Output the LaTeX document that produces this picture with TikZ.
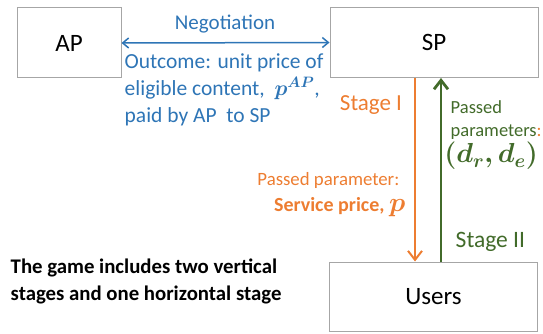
\RequirePackage{fix-cm}
\documentclass[tikz,border=0pt]{standalone}
\usepackage{amsmath, amssymb}
\usepackage{bm}
\usepackage{fontspec}
\setmainfont{Carlito}
\usetikzlibrary{arrows.meta}
\definecolor{negblue}{HTML}{2E75B6}
\definecolor{stageorange}{HTML}{ED7D31}
\definecolor{stagegreen}{HTML}{426B2A}
\definecolor{boxgray}{HTML}{A6A6A6}

\begin{document}
\begin{tikzpicture}[x=1pt, y=-1pt, line width=0.75pt,
    player/.style={draw=boxgray, line width=1pt, inner sep=0pt, minimum width=208pt, minimum height=70pt, font=\fontsize{25}{28}\selectfont},
    tip/.style={-{Straight Barb[length=9pt, width=14pt]}}]
        \useasboundingbox (0,0) rectangle (543,334);
        
        \node[player, minimum width=104pt](AP) at (69, 43) {AP};
        \node[player](SP) at (434, 42.5) {SP};
        \node[player, minimum height=69pt](Users) at (433.5, 296.5) {Users};
        
        % horizontal stage
        \draw[{Straight Barb[length=6pt, width=10pt]}-{Straight Barb[length=6pt, width=10pt]}, negblue, line width=1.5pt] (AP.east) -- (SP.west);
        \node(neg) at (225, 24) [negblue, font=\fontsize{21}{24}\selectfont] {Negotiation};
        \node(out) at (121, 90) [anchor=west, negblue, align=left, font=\fontsize{21.5}{27}\selectfont] {Outcome: unit price of\\ eligible content,~ $\bm{p^{AP}}$,\\ paid by AP~ to SP};
        
        % stage I
        \draw[tip, stageorange, line width=2pt] ([xshift=-19pt]SP.south) -- ([xshift=-18.5pt]Users.north);
        \node(s1) at (371, 105) [stageorange, font=\fontsize{23}{26}\selectfont] {Stage I};
        \node(pp1) at (403, 180) [anchor=east, stageorange, font=\fontsize{18.8}{22}\selectfont] {Passed parameter:};
        \node(sv) at (409, 207) [anchor=east, stageorange, font=\fontsize{20}{23}\selectfont\bfseries] {Service price, {\fontsize{27}{28}\selectfont$\bm{p}$}};
        
        % stage II
        \draw[tip, stagegreen, line width=2.8pt] ([xshift=7.5pt]Users.north) -- ([xshift=7pt]SP.south);
        \node(pp2) at (447, 120.5) [anchor=west, stagegreen, align=left, font=\fontsize{18.5}{23}\selectfont] {Passed\\ parameters\textcolor{stageorange}{:}};
        \node(dd) at (444, 156) [anchor=west, inner sep=0pt, stagegreen, font=\fontsize{27.5}{30}\selectfont] {$\bm{(d_r, d_e)}$};
        \node(s2) at (452, 242) [anchor=west, stagegreen, font=\fontsize{23.5}{26}\selectfont] {Stage II};
        
        \node(game) at (7, 281.5) [anchor=west, align=left, font=\fontsize{20.8}{27}\selectfont\bfseries] {The game includes two vertical\\ stages and one horizontal stage};
\end{tikzpicture}
\end{document}
